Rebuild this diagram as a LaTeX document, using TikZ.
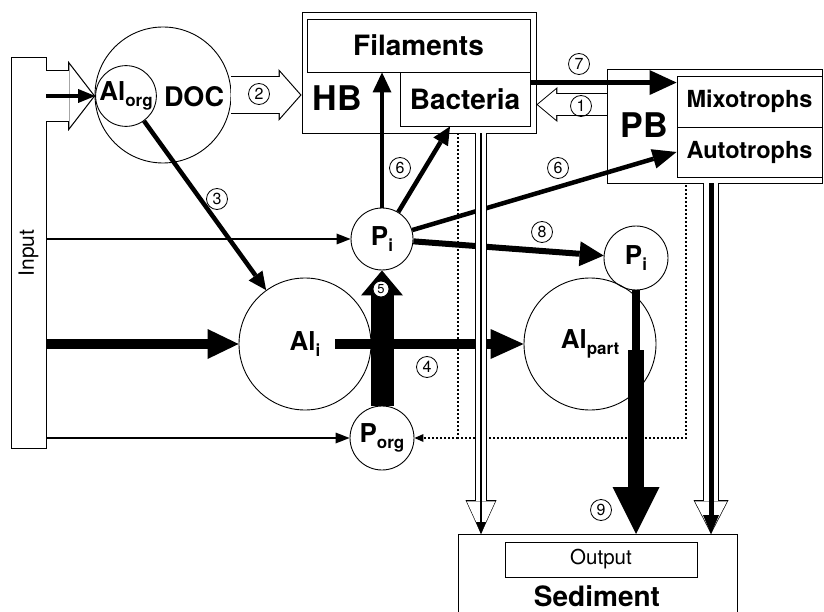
\documentclass[tikz,border=0pt]{standalone}
\usepackage{fontspec}
\setmainfont{TeX Gyre Heros}
\usetikzlibrary{arrows.meta}

\newcommand{\subtext}[1]{\raisebox{-0.25em}{\fontsize{17pt}{17pt}\selectfont #1}}
% hollow arrow: from, to, shaft width, head length, head width
\newcommand{\openarrow}[5]{%
  \pgfmathsetmacro{\shaftw}{#3-1.6}%
  \pgfmathsetmacro{\headl}{#4-2.8}%
  \pgfmathsetmacro{\headw}{#5*(#4-2.8)/#4}%
  \draw[line width=#3pt,-{Triangle[length=#4pt,width=#5pt,line width=0pt]}] (#1) -- (#2);
  \draw[white,line width=\shaftw pt,shorten >=1.5pt,-{Triangle[length=\headl pt,width=\headw pt,line width=0pt]}] (#1) -- (#2);}

\tikzset{
  box/.style={draw,rectangle,inner sep=0pt,line width=0.9pt},
  pool/.style={draw,circle,inner sep=0pt,line width=0.9pt,font=\fontsize{26pt}{26pt}\selectfont\bfseries},
  num/.style={draw,circle,inner sep=0pt,minimum size=21pt,line width=0.8pt,font=\fontsize{16pt}{16pt}\selectfont},
  flow/.style n args={3}{line width=#1,-{Triangle[length=#2,width=#3,line width=0pt]}},
  dotline/.style={line width=1.6pt,dash pattern=on 1.6pt off 2.4pt},
  bigname/.style={font=\fontsize{34pt}{34pt}\selectfont\bfseries},
  boxname/.style={font=\fontsize{28pt}{28pt}\selectfont\bfseries},
  pbname/.style={font=\fontsize{23.5pt}{23.5pt}\selectfont\bfseries},
}

\begin{document}
\begin{tikzpicture}[x=1pt,y=-1pt]
\useasboundingbox (0,0) rectangle (824,612);
\clip (0,0) rectangle (824,612);
% boxes
\node[box,minimum width=35pt,minimum height=391pt] (inp) at (28.5,252.5) {};
\node[rotate=90,font=\fontsize{21pt}{21pt}\selectfont] (intxt) at (28.5,253) {Input};
\node[box,minimum width=234pt,minimum height=121pt] (hb) at (419,72.5) {};
\node[box,boxname,minimum width=223pt,minimum height=53pt] (fil) at (418.5,45.5) {Filaments};
\node[box,boxname,minimum width=130pt,minimum height=54pt] (bac) at (465,99) {Bacteria};
\node[bigname] (hbtxt) at (337,98) {HB};
\node[box,minimum width=215pt,minimum height=114pt] (pb) at (714.5,126) {};
\node[box,pbname,minimum width=145pt,minimum height=51pt] (mix) at (749.5,101.5) {Mixotrophs};
\node[box,pbname,minimum width=145pt,minimum height=50pt] (aut) at (749.5,152) {Autotrophs};
\node[bigname] (pbtxt) at (644,125) {PB};
\node[box,minimum width=279pt,minimum height=120pt,anchor=north] (sed) at (597.5,534) {};
\node[box,minimum width=192pt,minimum height=35pt,font=\fontsize{20.5pt}{20.5pt}\selectfont] (out) at (601,559.5) {Output};
\node[boxname] (sedtxt) at (597,596) {Sediment};
% pools
\node[pool,minimum size=136pt] (doc) at (163,95) {};
\node[font=\fontsize{27pt}{27pt}\selectfont\bfseries] (doctxt) at (194,97) {DOC};
\node[pool,minimum size=60pt] (alo) at (126,96) {Al\subtext{org}};
\node[pool,minimum size=62pt] (pi) at (382,239) {P\subtext{i}};
\node[pool,minimum size=64pt] (pi2) at (636,258) {P\subtext{i}};
\node[pool,minimum size=64pt] (po) at (382,438) {P\subtext{org}};
\node[pool,minimum size=132pt] (ali) at (305,344) {Al\subtext{i}};
\node[pool,minimum size=132pt] (alp) at (590,344) {Al\subtext{part}};

% dotted return to P_org
\coordinate (d1) at (458,438);
\coordinate (d2) at (686,438);
\draw[dotline] (d1 |- hb.south) -- (d1) -- (d2) -- (d2 |- pb.south);
\draw[dotline,-{Triangle[length=9pt,width=8pt,line width=0pt]}] (d1) -- (po.east);

% inputs
\draw[flow={1.3pt}{14pt}{11pt}] (pi.west -| inp.east) -- (pi.west);
\draw[flow={1.3pt}{14pt}{11pt}] (po.west -| inp.east) -- (po.west);
\draw[flow={10pt}{31pt}{30pt}] (ali.west -| inp.east) -- (ali.west);
\openarrow{alo.west -| inp.east}{alo.west}{52}{27}{70}
\draw[flow={4.5pt}{17pt}{14pt}] (alo.west -| inp.east) -- (alo.west);

% fluxes
\draw[flow={4.5pt}{18pt}{17pt}] (alo) -- (ali);
\coordinate (c4) at (335,344);
\draw[flow={10pt}{33pt}{30pt}] (c4) -- (alp.west);
\draw[flow={23pt}{25pt}{42pt}] (po) -- (pi);
\draw[flow={4.5pt}{20pt}{19pt}] (pi) -- (pi |- fil.south);
\draw[flow={4.5pt}{18pt}{17pt}] (pi) -- ([xshift=-15pt]bac.south);
\draw[flow={4.5pt}{24pt}{20pt}] (pi) -- (aut.west);
\draw[flow={6pt}{24pt}{25pt}] (pi) -- (pi2);
\coordinate (c7) at ([yshift=-11pt]bac.north east);
\draw[flow={5pt}{27pt}{25pt}] (c7) -- (c7 -| mix.west);
\coordinate (c9) at (636,350);
\draw[line width=8pt] (pi2) -- (c9);
\draw[flow={16pt}{47pt}{47pt}] (c9) -- (c9 |- sed.north);

% hollow fluxes
\openarrow{doc.east}{doc.east -| hb.west}{38}{23}{52}
\coordinate (c1) at ([yshift=-33pt]bac.north east);
\openarrow{c1 -| pb.west}{c1 -| hb.east}{23}{21}{35}
\coordinate (v1) at (481,0);
\coordinate (v2) at (711,0);
\openarrow{v1 |- hb.south}{v1 |- sed.north}{12}{34}{31}
\draw[flow={2pt}{12pt}{10pt}] (v1 |- hb.south) -- (v1 |- sed.north);
\openarrow{v2 |- pb.south}{v2 |- sed.north}{16}{34}{35}
\draw[flow={5pt}{19pt}{16pt}] (v2 |- pb.south) -- (v2 |- sed.north);

% numbers
\node[num] (n1) at (581,106) {1};
\node[num] (n2) at (259,94) {2};
\node[num] (n3) at (217,199) {3};
\node[num] (n4) at (427,367) {4};
\node[num,fill=white,minimum size=16pt,font=\fontsize{13pt}{13pt}\selectfont] (n5) at (381,289) {5};
\node[num] (n6) at (400,168) {6};
\node[num] (n6b) at (558,168) {6};
\node[num] (n7) at (579,64) {7};
\node[num] (n8) at (542,232) {8};
\node[num] (n9) at (601,510) {9};
\end{tikzpicture}
\end{document}
